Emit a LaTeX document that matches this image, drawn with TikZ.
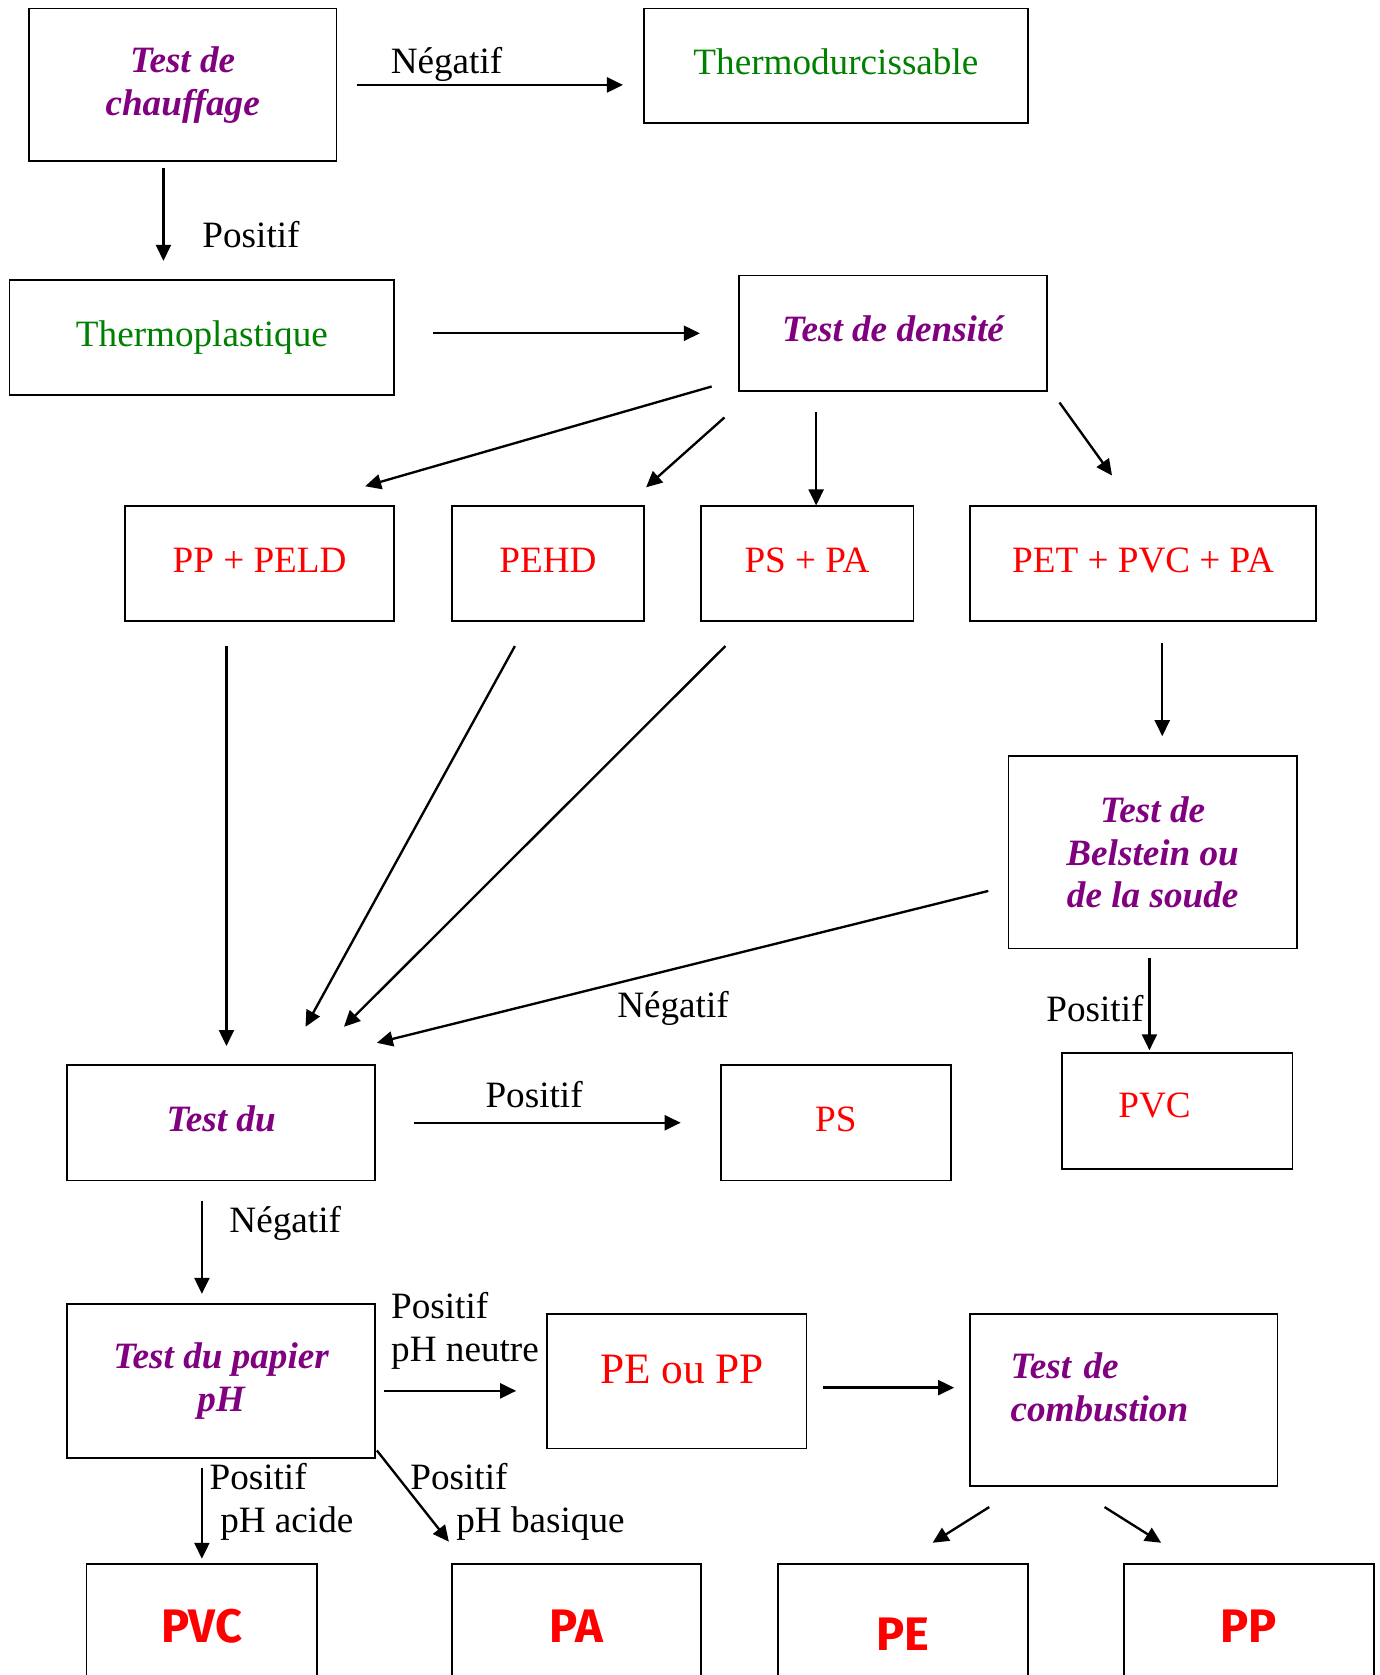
\documentclass[tikz,border=0pt]{standalone}
\usepackage{fontspec}
\setmainfont{Liberation Serif}
\newfontfamily\finalfont{Fira Sans}
\usetikzlibrary{arrows.meta}
\definecolor{testpurple}{RGB}{128,0,128}
\definecolor{resgreen}{RGB}{0,128,0}
\tikzset{
  box/.style={draw, line width=1.6pt, inner sep=0pt, align=center,
    font=\fontsize{34.8}{40}\selectfont},
  testbox/.style={box, text=testpurple,
    font=\fontsize{34.8}{40}\selectfont\bfseries\itshape},
  resbox/.style={box, text=red},
  finalbox/.style={box, text=red, font=\fontsize{44}{48}\selectfont\finalfont\bfseries},
  lift/.style={text depth=#1},
  lab/.style={inner sep=0pt, font=\fontsize{34.8}{40}\selectfont},
  arr/.style={-{Triangle[length=15pt,width=14pt]}, line width=2.2pt}
}
\begin{document}
\begin{tikzpicture}[x=1pt,y=-1pt]
  \clip (0,0) rectangle (1291,1568);
  % boxes
  \node[testbox, minimum width=288pt, minimum height=143pt] (heat) at (171,79.5) {Test de\\chauffage};
  \node[box, text=resgreen, lift=8pt, minimum width=359pt, minimum height=107pt] (thermod) at (782.5,61.5) {Thermodurcissable};
  \node[box, text=resgreen, minimum width=360pt, minimum height=108pt] (plastic) at (189,316) {Thermoplastique};
  \node[testbox, lift=8pt, minimum width=288pt, minimum height=108pt] (dens) at (836,312) {Test de densité};
  \node[resbox, lift=6pt, minimum width=252pt, minimum height=107pt] (ppeld) at (243,527.5) {PP + PELD};
  \node[resbox, lift=6pt, minimum width=180pt, minimum height=107pt] (pehd) at (513,527.5) {PEHD};
  \node[resbox, lift=6pt, minimum width=199pt, minimum height=107pt] (pspa) at (755.5,527.5) {PS + PA};
  \node[resbox, lift=6pt, minimum width=324pt, minimum height=107pt] (petpvc) at (1070,527.5) {PET + PVC + PA};
  \node[testbox, minimum width=270pt, minimum height=180pt] (belst) at (1079,798) {Test de\\Belstein ou\\de la soude};
  \node[testbox, lift=8pt, minimum width=288pt, minimum height=108pt] (testdu) at (207,1051) {Test du};
  \node[resbox, lift=6pt, minimum width=215pt, minimum height=108pt] (ps) at (782.5,1051) {PS};
  \node[resbox, lift=10pt, minimum height=108pt, text width=110pt, inner xsep=53pt, align=left] (pvcb) at (1102,1040) {PVC};
  \node[testbox, minimum width=288pt, minimum height=144pt] (papier) at (207,1293) {Test du papier\\pH};
  \node[resbox, lift=22pt, font=\fontsize{40.6}{46}\selectfont, minimum width=243pt, minimum height=126pt] (peoupp) at (633.5,1293) {\hspace*{10pt}PE ou PP};
  \node[testbox, lift=64pt, minimum height=161pt, text width=212pt, inner xsep=38pt, align=left] (comb) at (1052,1310.5) {Test de\\combustion};
  \node[finalbox, minimum width=216pt, minimum height=116pt] (pvcf) at (189,1522) {PVC};
  \node[finalbox, minimum width=233pt, minimum height=116pt] (pa) at (539.5,1522) {PA};
  \node[finalbox, text height=46pt, minimum width=234pt, minimum height=116pt] (pe) at (845,1522) {PE};
  \node[finalbox, minimum width=234pt, minimum height=116pt] (pp) at (1169,1522) {PP};
  % labels
  \node[lab] (neg1) at (418,60) {Négatif};
  \node[lab] (pos1) at (235,220) {Positif};
  \node[lab] (neg2) at (630,944) {Négatif};
  \node[lab] (pos2) at (1025,944) {Positif};
  \node[lab] (pos3) at (500,1025) {Positif};
  \node[lab] (neg3) at (267,1145) {Négatif};
  \node[lab, anchor=west, align=left] (neutre) at (366,1246) {Positif\\pH neutre};
  \node[lab, anchor=west, align=left] (acide) at (196,1406) {Positif\\\hspace*{10pt}pH acide};
  \node[lab, anchor=west, align=left] (basique) at (384,1406) {Positif\\\hspace*{43pt}pH basique};
  % arrows
  \begin{scope}[arr]
    \draw[shorten <=18pt, shorten >=19pt] (heat.east) -- (heat.east -| thermod.west);
    \draw[shorten <=5pt, shorten >=17pt] ([shift={(-18,0)}]heat.south) -- ([shift={(-18,0)}]heat.south |- plastic.north);
    \draw[shorten <=36pt, shorten >=36pt] (plastic.east |- dens.west) -- (dens.west);
    \draw ([shift={(-25,-5)}]dens.south west) -- ([shift={(-28,-18)}]ppeld.north east);
    \draw ([shift={(-13,24)}]dens.south west) -- ([shift={(1,-17)}]pehd.north east);
    \draw ([shift={(-72,19)}]dens.south) -- ([shift={(8.5,0)}]pspa.north);
    \draw ([shift={(11,10)}]dens.south east) -- ([shift={(-29,-28)}]petpvc.north);
    \draw ([shift={(-31,23)}]ppeld.south) -- ([shift={(5,-17)}]testdu.north);
    \draw ([shift={(-31,23)}]pehd.south) -- ([shift={(79,-35)}]testdu.north);
    \draw ([shift={(-76.5,23)}]pspa.south) -- ([shift={(115,-35)}]testdu.north);
    \draw ([shift={(18,20)}]petpvc.south) -- ([shift={(9,-18)}]belst.north);
    \draw ([shift={(-18,36)}]belst.west) -- ([shift={(1,-20)}]testdu.north east);
    \draw ([shift={(-3,8)}]belst.south) -- ([shift={(-26,-2)}]pvcb.north);
    \draw[shorten <=36pt, shorten >=37pt] (testdu.east) -- (testdu.east -| ps.west);
    \draw ([shift={(-18,18)}]testdu.south) -- ([shift={(-18,-9)}]papier.north);
    \draw ([shift={(8,9)}]papier.east) -- ([shift={(-28,9)}]peoupp.west);
    \draw ([shift={(15,6)}]peoupp.east) -- ([shift={(-14,-11.5)}]comb.west);
    \draw ([shift={(-18,8)}]papier.south) -- ([shift={(0,-4)}]pvcf.north);
    \draw ([shift={(1,-8)}]papier.south east) -- ([shift={(-2,-20)}]pa.north west);
    \draw ([shift={(-126,19)}]comb.south) -- ([shift={(28,-19)}]pe.north);
    \draw ([shift={(-18,19)}]comb.south) -- ([shift={(-82,-19)}]pp.north);
  \end{scope}
\end{tikzpicture}
\end{document}
